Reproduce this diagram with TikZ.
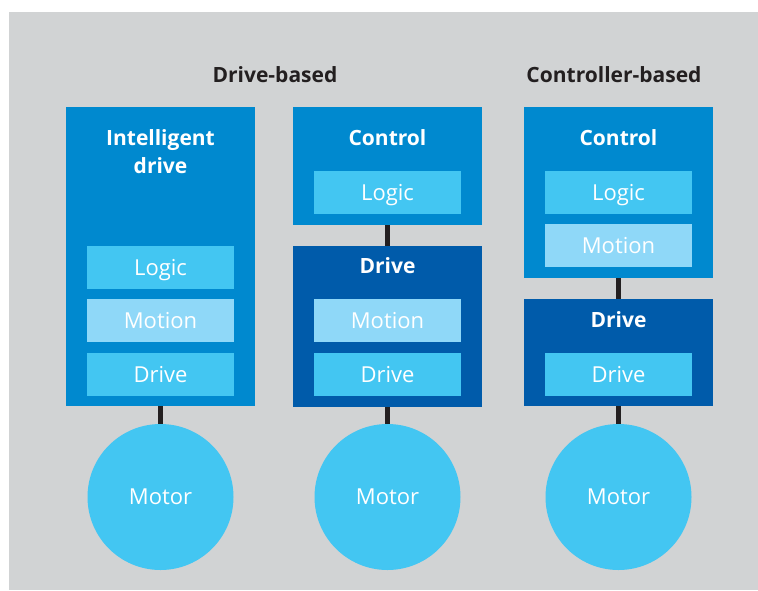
\documentclass[tikz,border=0pt]{standalone}
\usepackage{fontspec}
\setmainfont{Open Sans}
\definecolor{bggray}{HTML}{D1D3D4}
\definecolor{midblue}{HTML}{0089CF}
\definecolor{darkblue}{HTML}{005BAA}
\definecolor{cyanbox}{HTML}{43C6F2}
\definecolor{lightbox}{HTML}{8FD8F8}
\definecolor{inkdark}{HTML}{231F20}
\tikzset{
  outerbox/.style={rectangle, inner sep=0pt, fill=midblue, minimum width=189pt},
  drivebox/.style={rectangle, inner sep=0pt, fill=darkblue, minimum width=189pt},
  innerbox/.style={rectangle, inner sep=0pt, minimum width=147pt, minimum height=43pt,
     text height=15pt, text depth=0pt, text=white, font=\fontsize{22}{26}\selectfont},
  logicbox/.style={innerbox, fill=cyanbox},
  motionbox/.style={innerbox, fill=lightbox},
  motor/.style={circle, inner sep=0pt, minimum size=146pt, fill=cyanbox, text=white,
     text height=15pt, text depth=0pt, font=\fontsize{22}{26}\selectfont},
  boxtitle/.style={anchor=base, text=white, font=\bfseries\fontsize{21}{25}\selectfont, inner sep=0pt},
  header/.style={anchor=base, text=inkdark, font=\bfseries\fontsize{21}{25}\selectfont, inner sep=0pt},
  link/.style={draw=inkdark, line width=5pt}
}
\begin{document}
\begin{tikzpicture}[x=1pt,y=-1pt]
\useasboundingbox (0,0) rectangle (758,590);
\fill[bggray] (9,12) rectangle (758,590);

\node[header] (h1) at (275,82) {Drive-based};
\node[header] (h2) at (614,82) {Controller-based};

% column 1
\node[outerbox, minimum height=299pt] (c1) at (160.5,256.5) {};
\node[boxtitle] (t1a) at (160.5,145) {Intelligent};
\node[boxtitle] (t1b) at (160.5,173) {drive};
\node[logicbox] (c1l) at (160.5,267.5) {Logic};
\node[motionbox] (c1m) at (160.5,320.5) {Motion};
\node[logicbox] (c1d) at (160.5,374.5) {Drive};
\node[motor] (m1) at (160.5,497) {Motor};
\draw[link] (c1.south) -- (m1.north);

% column 2
\node[outerbox, minimum height=118pt] (c2) at (387.5,166) {};
\node[boxtitle] (t2) at (387.5,145) {Control};
\node[logicbox] (c2l) at (387.5,192.5) {Logic};
\node[drivebox, minimum height=161pt] (d2) at (387.5,326.5) {};
\node[boxtitle] (t2d) at (387.5,273) {Drive};
\node[motionbox] (d2m) at (387.5,320.5) {Motion};
\node[logicbox] (d2d) at (387.5,374.5) {Drive};
\node[motor] (m2) at (387.5,497) {Motor};
\draw[link] (c2.south) -- (d2.north);
\draw[link] (d2.south) -- (m2.north);

% column 3
\node[outerbox, minimum height=171pt] (c3) at (618.5,192.5) {};
\node[boxtitle] (t3) at (618.5,145) {Control};
\node[logicbox] (c3l) at (618.5,192.5) {Logic};
\node[motionbox] (c3m) at (618.5,245.5) {Motion};
\node[drivebox, minimum height=107pt] (d3) at (618.5,352.5) {};
\node[boxtitle] (t3d) at (618.5,327.5) {Drive};
\node[logicbox] (d3d) at (618.5,374.5) {Drive};
\node[motor] (m3) at (618.5,497) {Motor};
\draw[link] (c3.south) -- (d3.north);
\draw[link] (d3.south) -- (m3.north);
\end{tikzpicture}
\end{document}
